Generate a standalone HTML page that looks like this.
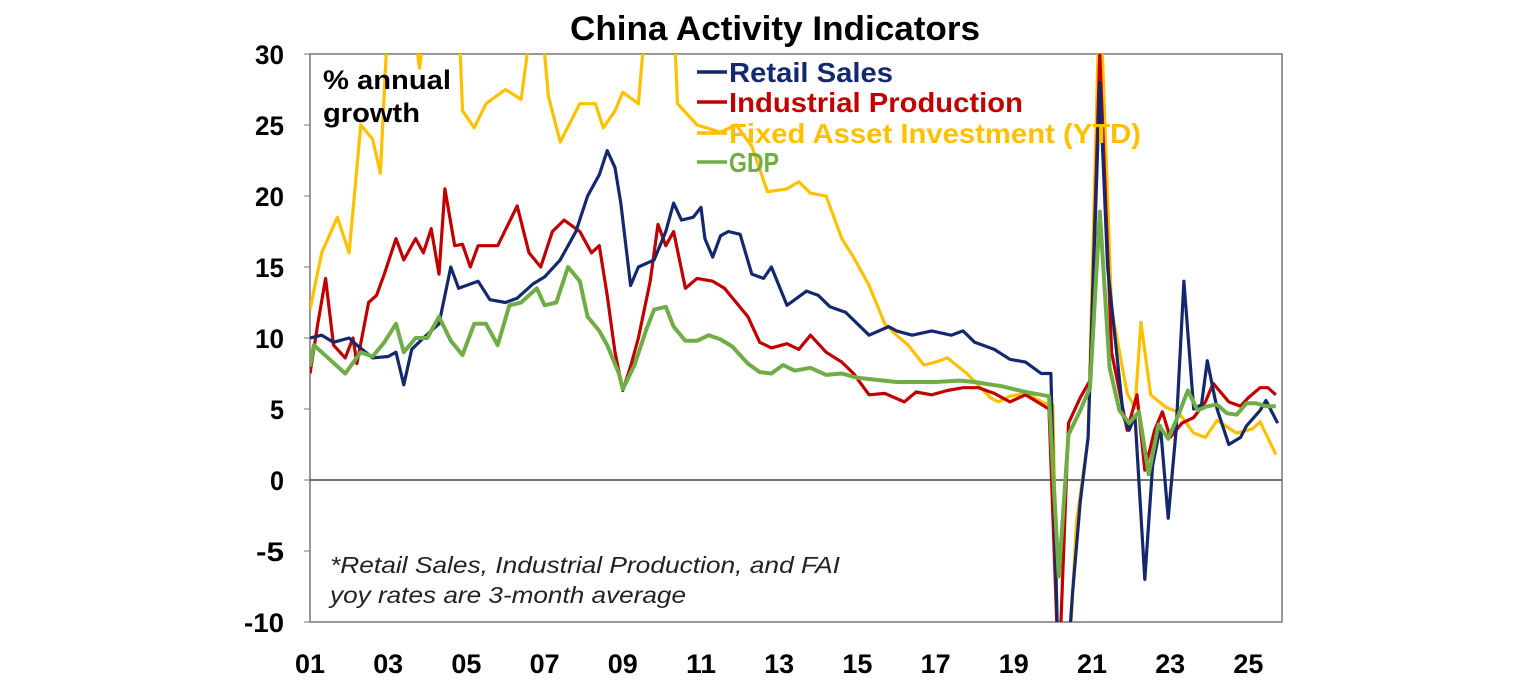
<!DOCTYPE html>
<html><head><meta charset="utf-8"><style>
html,body{margin:0;padding:0;background:#fff;width:1536px;height:680px;overflow:hidden;}
svg{display:block;font-family:"Liberation Sans",Arial,sans-serif;}
</style></head><body>
<svg id="c" width="1536" height="680" viewBox="0 0 1536 680" xmlns="http://www.w3.org/2000/svg">
<defs><clipPath id="cp"><rect x="310" y="54" width="972" height="568"/></clipPath></defs>
<text x="775" y="40" text-anchor="middle" font-size="34" font-weight="bold" textLength="410" lengthAdjust="spacingAndGlyphs">China Activity Indicators</text>
<rect x="310" y="54" width="972" height="568" fill="none" stroke="#777" stroke-width="1.5"/>
<line x1="310" y1="480" x2="1282" y2="480" stroke="#444" stroke-width="1.5"/>
<g id="yt" font-size="27" font-weight="bold" text-anchor="end"></g>
<g id="xt" font-size="27" font-weight="bold" text-anchor="middle"></g>
<g clip-path="url(#cp)" fill="none" stroke-linejoin="round" stroke-width="3.2">
<path id="fai" stroke="#ffc000"/>
<path id="ip" stroke="#c00000"/>
<path id="rs" stroke="#14286e"/>
<path id="gdp" stroke="#70ad47" stroke-width="4"/>
</g>
<text x="323" y="89" font-size="27" font-weight="bold" textLength="128" lengthAdjust="spacingAndGlyphs">% annual</text>
<text x="323" y="122" font-size="27" font-weight="bold" textLength="97" lengthAdjust="spacingAndGlyphs">growth</text>
<g font-size="28" font-weight="bold">
<line x1="697" y1="72" x2="727" y2="72" stroke="#14286e" stroke-width="3.5"/>
<text x="729" y="82" fill="#14286e" textLength="164" lengthAdjust="spacingAndGlyphs">Retail Sales</text>
<line x1="697" y1="102" x2="727" y2="102" stroke="#c00000" stroke-width="3.5"/>
<text x="729" y="112" fill="#c00000" textLength="294" lengthAdjust="spacingAndGlyphs">Industrial Production</text>
<line x1="697" y1="133" x2="727" y2="133" stroke="#ffc000" stroke-width="3.5"/>
<text x="729" y="143" fill="#ffc000" textLength="412" lengthAdjust="spacingAndGlyphs">Fixed Asset Investment (YTD)</text>
<line x1="697" y1="162" x2="727" y2="162" stroke="#70ad47" stroke-width="3.5"/>
<text x="729" y="172" fill="#70ad47" textLength="50" lengthAdjust="spacingAndGlyphs">GDP</text>
</g>
<g font-size="23" font-style="italic" fill="#222">
<text x="330" y="573" textLength="510" lengthAdjust="spacingAndGlyphs">*Retail Sales, Industrial Production, and FAI</text>
<text x="330" y="603" textLength="356" lengthAdjust="spacingAndGlyphs">yoy rates are 3-month average</text>
</g>
</svg>
<script>
var X=function(t){return 310+(t-2001)*39.1;},Y=function(v){return 480-v*14.2;};
var ns="http://www.w3.org/2000/svg";
var yt=document.getElementById('yt');
var yw={'-10':40,'-5':28,'0':14,'5':14};
for(var v=-10;v<=30;v+=5){var t=document.createElementNS(ns,'text');t.setAttribute('x',284);t.setAttribute('y',Y(v)+10);t.setAttribute('textLength',yw[String(v)]||29);t.setAttribute('lengthAdjust','spacingAndGlyphs');t.textContent=v;yt.appendChild(t);
var l=document.createElementNS(ns,'line');l.setAttribute('x1',304);l.setAttribute('x2',310);l.setAttribute('y1',Y(v));l.setAttribute('y2',Y(v));l.setAttribute('stroke','#777');yt.appendChild(l);}
var xt=document.getElementById('xt');
for(var y=2001;y<=2025;y+=2){var t=document.createElementNS(ns,'text');t.setAttribute('x',X(y));t.setAttribute('y',673);t.setAttribute('textLength',30);t.setAttribute('lengthAdjust','spacingAndGlyphs');t.textContent=String(y%100).padStart(2,'0');xt.appendChild(t);}
function P(id,a){var d='';for(var i=0;i<a.length;i+=2){d+=(i?'L':'M')+X(a[i]).toFixed(1)+','+Y(a[i+1]).toFixed(1);}document.getElementById(id).setAttribute('d',d);}
P('fai',[2001,12,2001.3,16,2001.7,18.5,2002.0,16,2002.3,25,2002.6,24,2002.8,21.6,2003.0,33,2003.6,33,2003.8,29,2004.0,33,2004.8,33,2004.9,26,2005.2,24.8,2005.5,26.5,2006.0,27.5,2006.4,26.8,2006.7,33,2006.9,33,2007.1,27,2007.4,23.8,2007.9,26.5,2008.3,26.5,2008.5,24.8,2008.8,26,2009.0,27.3,2009.4,26.5,2009.6,33,2010.3,33,2010.4,26.5,2010.9,25,2011.5,24.5,2011.9,25,2012.3,23.5,2012.7,20.3,2013.2,20.5,2013.5,21,2013.8,20.2,2014.2,20,2014.6,17,2014.9,15.7,2015.3,13.7,2015.7,11,2016.0,10.2,2016.3,9.5,2016.7,8.1,2017.0,8.3,2017.3,8.6,2017.8,7.5,2018.4,5.8,2018.6,5.5,2018.9,5.9,2019.3,6.1,2019.8,5.4,2020.0,5.3,2020.2,-24,2020.6,-3,2020.9,2.9,2021.2,35,2021.5,12,2021.9,6.1,2022.1,5.1,2022.25,11.1,2022.5,6,2022.9,5.1,2023.2,4.8,2023.6,3.3,2023.9,3,2024.2,4.2,2024.7,3.3,2025.1,3.6,2025.3,4.1,2025.7,1.8]);
P('rs',[2001,10,2001.3,10.2,2001.6,9.7,2002,10,2002.2,9.5,2002.6,8.6,2003.0,8.7,2003.2,9,2003.4,6.7,2003.6,9.2,2003.9,10,2004.3,11,2004.6,15,2004.8,13.5,2005.3,14,2005.6,12.7,2006.0,12.5,2006.3,12.8,2006.7,13.8,2007.0,14.3,2007.4,15.5,2007.8,17.5,2008.1,20,2008.4,21.5,2008.6,23.2,2008.8,22,2008.95,19.5,2009.2,13.7,2009.4,15,2009.8,15.5,2010.1,17.5,2010.3,19.5,2010.5,18.3,2010.8,18.5,2011.0,19.2,2011.1,17,2011.3,15.7,2011.5,17.2,2011.7,17.5,2012.0,17.3,2012.3,14.5,2012.6,14.2,2012.8,15,2013.2,12.3,2013.7,13.3,2014.0,13,2014.3,12.2,2014.7,11.8,2015.3,10.2,2015.8,10.8,2016.0,10.5,2016.4,10.2,2016.9,10.5,2017.4,10.2,2017.7,10.5,2018.0,9.7,2018.5,9.2,2018.9,8.5,2019.3,8.3,2019.7,7.5,2019.95,7.5,2020.2,-20,2020.5,-8,2020.7,-1.5,2020.9,3,2021.2,28,2021.4,15,2021.8,4.5,2021.95,3.5,2022.1,4.5,2022.35,-7,2022.55,1,2022.75,3.8,2022.95,-2.7,2023.15,3.5,2023.35,14,2023.6,5,2023.8,5.3,2023.95,8.4,2024.2,5,2024.5,2.5,2024.8,3,2024.95,3.8,2025.3,4.9,2025.45,5.6,2025.75,4]);
P('ip',[2001,7.5,2001.2,11,2001.4,14.2,2001.6,9.5,2001.9,8.6,2002.1,10,2002.2,8.2,2002.5,12.5,2002.7,13,2002.9,14.5,2003.2,17,2003.4,15.5,2003.7,17,2003.9,16,2004.1,17.7,2004.3,14.5,2004.45,20.5,2004.7,16.5,2004.9,16.6,2005.1,15,2005.3,16.5,2005.8,16.5,2006.3,19.3,2006.6,16,2006.9,15,2007.2,17.5,2007.5,18.3,2007.9,17.5,2008.2,16,2008.4,16.5,2008.6,13,2008.8,9,2009.0,6.3,2009.2,8,2009.4,10,2009.7,14,2009.9,18,2010.1,16.5,2010.3,17.5,2010.6,13.5,2010.9,14.2,2011.3,14,2011.6,13.5,2011.9,12.5,2012.2,11.5,2012.5,9.7,2012.8,9.3,2013.2,9.6,2013.5,9.2,2013.8,10.2,2014.2,9,2014.6,8.3,2014.9,7.5,2015.3,6,2015.7,6.1,2016.2,5.5,2016.5,6.2,2016.9,6,2017.3,6.3,2017.7,6.5,2018.1,6.5,2018.5,6.1,2018.9,5.5,2019.3,6,2019.9,5,2020.15,-14,2020.4,4,2020.7,5.8,2020.95,7,2021.2,30,2021.5,9,2021.9,3.5,2022.15,6,2022.35,0.7,2022.6,3.5,2022.8,4.8,2023.0,3,2023.3,4,2023.6,4.4,2023.9,5.5,2024.1,6.8,2024.5,5.5,2024.8,5.2,2025.0,5.8,2025.3,6.5,2025.5,6.5,2025.7,6]);
P('gdp',[2001,8,2001.1,9.5,2001.5,8.5,2001.9,7.5,2002.3,9,2002.6,8.7,2002.9,9.7,2003.2,11,2003.4,9,2003.7,10,2004,10,2004.3,11.5,2004.6,9.8,2004.9,8.8,2005.2,11,2005.5,11,2005.8,9.5,2006.1,12.3,2006.4,12.5,2006.8,13.5,2007.0,12.3,2007.3,12.5,2007.6,15,2007.9,14,2008.1,11.5,2008.4,10.5,2008.6,9.5,2008.9,7.5,2009.0,6.4,2009.3,8.1,2009.6,10.6,2009.8,12,2010.1,12.2,2010.3,10.8,2010.6,9.8,2010.9,9.8,2011.2,10.2,2011.5,9.9,2011.8,9.4,2012.2,8.2,2012.5,7.6,2012.8,7.5,2013.1,8.1,2013.4,7.7,2013.8,7.9,2014.2,7.4,2014.6,7.5,2015,7.2,2016,6.9,2017,6.9,2017.6,7,2018,6.9,2018.7,6.6,2019.3,6.2,2019.9,5.9,2020.15,-6.8,2020.4,3.2,2020.7,4.9,2020.95,6.5,2021.2,18.9,2021.45,7.9,2021.7,4.9,2021.95,4,2022.2,4.8,2022.45,0.4,2022.7,3.9,2022.95,2.9,2023.2,4.5,2023.45,6.3,2023.7,4.9,2023.95,5.2,2024.2,5.3,2024.45,4.7,2024.7,4.6,2024.95,5.4,2025.2,5.4,2025.45,5.2,2025.7,5.2]);
</script>
</body></html>
